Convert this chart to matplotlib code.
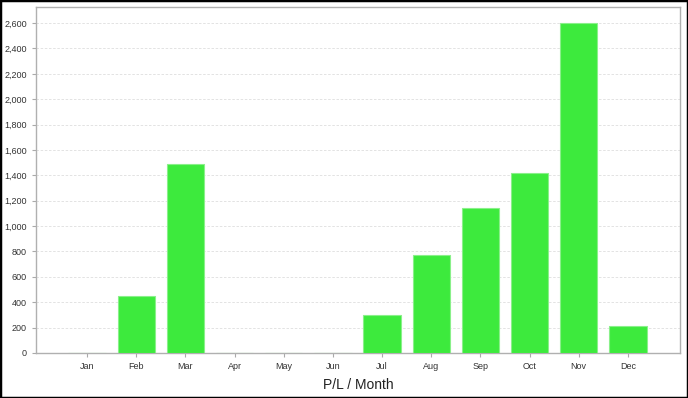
import matplotlib
matplotlib.use("Agg")
import matplotlib.pyplot as plt
from matplotlib.ticker import FuncFormatter, MultipleLocator
from matplotlib.patches import Rectangle

months = ["Jan", "Feb", "Mar", "Apr", "May", "Jun", "Jul", "Aug", "Sep", "Oct", "Nov", "Dec"]
values = [0, 450, 1490, 0, 0, 0, 300, 770, 1140, 1420, 2600, 210]

plt.rcParams['font.family'] = ['Liberation Sans', 'DejaVu Sans']

fig = plt.figure(figsize=(6.88, 3.98), dpi=100)
ax = fig.add_axes([36/688, 1 - 353/398, (680-36)/688, (353-7)/398])

x = list(range(len(months)))
ax.bar(x, values, width=0.76, color="#3dea3d", edgecolor="#8af08a", linewidth=0.8, zorder=3)

ax.set_xlim(-1.04, 12.06)
ax.set_ylim(0, 2727)
ax.yaxis.set_major_locator(MultipleLocator(200))
ax.yaxis.set_major_formatter(FuncFormatter(lambda v, p: f"{int(v):,}"))
ax.set_xticks(x)
ax.set_xticklabels(months)
ax.tick_params(axis="both", labelsize=6.5, colors="#333333", length=3, width=0.8)
ax.tick_params(axis="both", color="#aaaaaa")
ax.grid(axis="y", color="#dedede", linestyle=(0, (3, 2)), linewidth=0.6, zorder=0)
for s in ax.spines.values():
    s.set_color("#b0b0b0")
    s.set_linewidth(1.0)
ax.set_xlabel("P/L / Month", fontsize=10, color="#222222", labelpad=5)

fig.patches.append(Rectangle((0, 0), 1, 1, transform=fig.transFigure, fill=False,
                             edgecolor="black", linewidth=2.5, zorder=10))

fig.savefig("out.png", dpi=100)
